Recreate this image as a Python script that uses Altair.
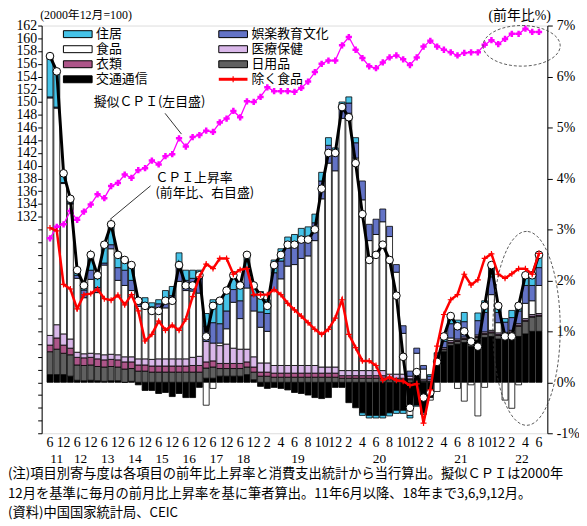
import altair as alt
import pandas as pd

JP = "Noto Sans CJK JP"
SERIF = "Liberation Serif, Noto Sans CJK JP"

# ---------------- periods (2011/6-2018/12 quarterly, 2019/1-2022/6 monthly)
periods = []
for y in range(2011, 2019):
    for m in (3, 6, 9, 12):
        if y == 2011 and m < 6:
            continue
        periods.append((y, m))
for y in range(2019, 2023):
    for m in range(1, 13):
        if y == 2022 and m > 6:
            break
        periods.append((y, m))
N = len(periods)

tick_labels = []
for i, (y, m) in enumerate(periods):
    if y <= 2018:
        tick_labels.append(str(m) if m in (6, 12) else "")
    else:
        tick_labels.append(str(m) if m % 2 == 0 else "")

year_names = [str(y % 100) for y in range(2011, 2023)]

# ---------------- series (%, y/y)
cpi = [6.4, 6.1, 4.1, 3.6, 2.2, 1.9, 2.5, 2.1, 2.7, 3.1, 2.5, 2.4, 2.3, 1.6, 1.5,
       1.4, 1.4, 1.6, 1.6, 2.3, 1.9, 1.9, 2.1, 0.9, 1.5, 1.6, 1.8, 2.1, 1.9, 2.5, 1.9,
       1.7, 1.5, 2.3, 2.5, 2.7, 2.7, 2.8, 2.8, 3.0, 3.8, 4.5, 4.5,
       5.4, 5.2, 4.3, 3.3, 2.4, 2.5, 2.7, 2.4, 1.7, 0.5, -0.5, 0.2,
       -0.3, -0.2, 0.4, 0.9, 1.3, 1.1, 1.0, 0.8, 0.7, 1.5, 2.3, 1.5,
       0.9, 0.9, 1.5, 2.1, 2.1, 2.5]

ex_food = [3.03, 2.97, 1.92, 1.83, 1.44, 1.72, 1.74, 1.83, 1.64, 1.61, 1.71, 1.52, 1.72,
           1.40, 0.81, 0.94, 1.20, 1.02, 1.12, 1.02, 1.24, 1.68, 2.07, 2.32, 2.23,
           2.43, 2.43, 2.12, 2.21, 2.23, 1.72, 1.72, 1.72, 1.82, 1.72, 1.55, 1.42,
           1.30, 1.17, 1.04, 0.94, 1.04, 1.26, 1.62, 0.94, 0.68, 0.42, 0.42, 0.33,
           0.04, 0.10, 0.04, 0.02, -0.06, -0.03, -0.80, -0.15, 0.71, 1.33, 1.62, 1.72,
           2.12, 1.91, 2.01, 2.43, 2.52, 2.12, 2.04, 2.13, 2.23, 2.23, 2.12, 2.53]

# pseudo CPI (2000/12 = 100)
pseudo_cpi = [128.6, 130.4, 130.8, 132.9, 131.5, 132.8, 133.9, 135.5, 134.9, 136.8, 137.3,
              138.6, 138.1, 139.3, 139.6, 140.8, 140.2, 141.5, 141.8, 144.3, 143.0, 144.5,
              144.8, 145.5, 145.3, 146.8, 147.4, 148.6, 147.6, 150.1, 150.0, 150.8, 152.3,
              151.7, 151.7, 151.7, 151.6, 152.2, 153.2, 154.7, 156.0, 156.5, 156.5, 158.9,
              160.2, 158.2, 156.9, 155.6, 155.3, 156.2, 157.0, 157.3, 156.7, 155.8, 157.0,
              158.7, 159.6, 158.7, 158.2, 157.8, 157.3, 157.7, 157.8, 157.8, 159.0, 159.7,
              159.1, 159.9, 160.7, 160.7, 161.5, 161.0, 161.0]

# contributions (% pt)
transport = [.15, .15, .15, .12, .04, .03, .04, .03, .02, .03, .03, .00, .02,
             -.05, -.16, -.16, -.22, -.20, -.28, -.22, -.30, -.30, -.10, .08, .08,
             .12, .12, .12, .12, .15, .05, -.08, -.12, -.10, -.12, -.15, -.20,
             -.22, -.25, -.30, -.32, -.30, -.10, -.10, -.40, -.50, -.60, -.65, -.65,
             -.65, -.60, -.55, -.55, -.50, -.45, -.60, -.30, .45, .60, .72, .75,
             .78, .70, .82, .88, .90, .85, .85, .85, .90, .95, 1.00, 1.00]
household = [.45, .50, .42, .42, .30, .30, .30, .28, .28, .28, .27, .26, .25,
             .22, .22, .20, .20, .20, .20, .20, .20, .20, .20, .20, .22,
             .15, .15, .15, .15, .15, .15, .12, .12, .10, .10, .10, .10,
             .10, .10, .10, .10, .10, .10, .08, .08, .08, .08, .08, .08,
             .08, .05, .05, .05, .05, .05, .03, .02, .03, .04, .05, .05,
             .06, .05, .06, .06, .07, .07, .08, .12, .20, .25, .28, .30]
clothing = [.13, .22, .16, .13, .15, .15, .15, .15, .14, .14, .14, .14, .13,
            .12, .12, .12, .12, .12, .12, .12, .12, .13, .13, .12, .12,
            .10, .10, .10, .10, .10, .10, .08, .08, .08, .08, .08, .08,
            .08, .08, .08, .08, .08, .08, .05, .05, .05, .05, .05, .05,
            .05, .03, .03, .03, .02, .02, .00, .00, .01, .01, .02, .02,
            .02, .02, .02, .02, .02, .02, .02, .02, .02, .02, .02, .02]
medical = [.19, .26, .22, .18, .10, .08, .08, .10, .10, .10, .10, .10, .10,
           .12, .12, .13, .14, .14, .14, .14, .14, .16, .18, .40, .35,
           .35, .38, .30, .28, .25, .20, .18, .18, .15, .15, .15, .15,
           .15, .15, .15, .12, .12, .12, .10, .10, .10, .10, .10, .10,
           .10, .08, .08, .08, .05, .05, .03, .03, .03, .03, .03, .03,
           .03, .03, .03, .03, .03, .03, .03, .03, .03, .03, .03, .03]
food = [4.66, 4.25, 2.95, 2.65, 1.45, 1.10, 1.45, 1.20, 1.76, 2.07, 1.46, 1.40, 1.30,
        1.03, 1.05, .98, 1.00, 1.00, 1.10, 1.52, 1.34, 1.30, 1.24, -.45, -.12,
        .05, .30, .90, .60, 1.20, .90, .70, .62, 1.47, 1.70, 1.95, 1.98,
        2.10, 2.15, 2.45, 3.30, 4.00, 3.85, 4.95, 5.05, 4.17, 3.35, 2.55, 2.67,
        2.92, 2.70, 2.00, .80, -.15, .45, .20, -.05, -.18, .00, .05, -.12,
        -.37, -.05, -.66, -.10, .70, .20, -.35, -.51, -.05, .30, .27, .55]
recreation = [.02, .02, .02, .02, .06, .15, .18, .10, .04, .08, .25, .30, .20,
              .05, .05, .05, .08, .14, .14, .30, .20, .25, .28, .30, .40,
              .38, .35, .25, .35, .40, .30, .30, .35, .35, .35, .35, .35,
              .35, .35, .35, .35, .35, .30, .20, .20, .30, .37, .32, .30,
              .25, .20, .15, .15, .10, .10, .07, .07, .04, .12, .28, .22,
              .30, .03, .28, .38, .35, .20, .20, .25, .25, .35, .30, .35]
housing = [.80, .70, .20, .08, .10, .09, .30, .24, .36, .40, .25, .20, .30,
           .11, .10, .08, .08, .20, .18, .26, .20, .16, .17, .25, .45,
           .45, .40, .28, .30, .25, .20, .40, .27, .25, .24, .22, .24,
           .24, .22, .17, .17, .15, .15, .12, .12, .10, -.05, -.05, -.05,
           -.05, -.06, -.06, -.06, -.05, -.02, -.03, .03, .02, .10, .15, .15,
           .18, .02, .15, .23, .23, .13, .07, .14, .15, .20, .20, .25]

# stack order bottom -> top
stack_cats = ["交通通信", "日用品", "衣類", "医療保健", "食品", "娯楽教育文化", "住居"]
stack_vals = [transport, household, clothing, medical, food, recreation, housing]

# legend (column-major, 2 columns) and colours
legend_cats = ["住居", "食品", "衣類", "交通通信", "娯楽教育文化", "医療保健", "日用品"]
legend_cols = ["#45c3e8", "#ffffff", "#ad5589", "#000000", "#6373c6", "#dab8ea", "#606060"]
line_legend = "除く食品"

bar_rows = []
for k, (cat, vals) in enumerate(zip(stack_cats, stack_vals)):
    for i, v in enumerate(vals):
        bar_rows.append({"idx": i, "cat": cat, "val": v, "ord": k})
bar_df = pd.DataFrame(bar_rows)

line_df = pd.DataFrame({"idx": list(range(N)), "cpi": cpi, "exfood": ex_food,
                        "pseudo": pseudo_cpi})

month_df = pd.DataFrame([{"idx": i, "lab": s} for i, s in enumerate(tick_labels) if s])

yr_rows = []
for y, name in zip(range(2011, 2023), year_names):
    ids = [i for i, p in enumerate(periods) if p[0] == y]
    yr_rows.append({"yr": name, "center": (min(ids) + max(ids)) / 2})
year_df = pd.DataFrame(yr_rows)

notes = ["(注)項目別寄与度は各項目の前年比上昇率と消費支出統計から当行算出。擬似ＣＰＩは2000年",
         "12月を基準に毎月の前月比上昇率を基に筆者算出。11年6月以降、18年まで3,6,9,12月。",
         "(資料)中国国家統計局、CEIC"]

W, H = 511, 412

xs = alt.Scale(domain=[-0.5, N - 0.5], nice=False, zero=False)
X = alt.X("idx:Q", scale=xs, axis=None)

yR = alt.Scale(domain=[-1, 7], nice=False, zero=False)
yL = alt.Scale(domain=[98, 162], nice=False, zero=False)

yR_axis = alt.Axis(orient="right", values=list(range(-1, 8)), labelExpr="datum.value + '%'",
                   tickSize=5, tickColor="black", domainColor="black", labelColor="black",
                   labelFont=SERIF, labelFontSize=14, labelPadding=4, labelOverlap=False,
                   labelFlush=False, grid=False, titleAngle=0, titleX=3, titleY=-10,
                   titleAlign="right", titleBaseline="middle", titleFont=SERIF,
                   titleFontSize=14, titleFontWeight="normal", titleColor="black")
yL_axis = alt.Axis(orient="left", values=list(range(98, 163, 2)),
                   labelExpr="datum.value >= 132 ? datum.label : ''",
                   tickSize=4, tickColor="black", domainColor="black", labelColor="black",
                   labelFont=SERIF, labelFontSize=14, labelPadding=1, labelOverlap=False,
                   labelFlush=False, grid=False, titleAngle=0, titleX=-2, titleY=-11,
                   titleAlign="left", titleBaseline="middle", titleFont=SERIF,
                   titleFontSize=12, titleFontWeight="normal", titleColor="black")

color_scale = alt.Scale(domain=legend_cats, range=legend_cols)

bars = alt.Chart(bar_df).mark_bar(size=6, stroke="black", strokeWidth=0.8).encode(
    x=X,
    y=alt.Y("val:Q", stack="zero", scale=yR, axis=yR_axis, title="(前年比%)"),
    color=alt.Color("cat:N", scale=color_scale, legend=None),
    order=alt.Order("ord:Q", sort="ascending"),
)

mag_line = alt.Chart(line_df).mark_line(color="#ff00ff", strokeWidth=1.3).encode(
    x=X, y=alt.Y("pseudo:Q", scale=yL, axis=yL_axis, title="(2000年12月=100)"))
mag_pts = alt.Chart(line_df).mark_point(shape="cross", filled=True, color="#ff00ff",
                                        size=40, opacity=1).encode(
    x=X, y=alt.Y("pseudo:Q", scale=yL, axis=None))

cpi_line = alt.Chart(line_df).mark_line(color="black", strokeWidth=3).encode(
    x=X, y=alt.Y("cpi:Q", scale=yR, axis=None))
cpi_pts = alt.Chart(line_df).mark_point(shape="circle", filled=True, fill="white",
                                        stroke="black", strokeWidth=1, size=60,
                                        opacity=1).encode(
    x=X, y=alt.Y("cpi:Q", scale=yR, axis=None))

red_line = alt.Chart(line_df).mark_line(color="#ff0000", strokeWidth=2.5).encode(
    x=X, y=alt.Y("exfood:Q", scale=yR, axis=None))
red_pts = alt.Chart(line_df).mark_point(shape="M-1,0H1M0,-1V1", filled=False,
                                        stroke="#ff0000", strokeWidth=1.2, size=36,
                                        opacity=1).encode(
    x=X, y=alt.Y("exfood:Q", scale=yR, axis=None))

months = alt.Chart(month_df).mark_text(font=SERIF, fontSize=14, color="black",
                                       baseline="middle").encode(
    x=alt.X("idx:Q", scale=xs, axis=None), y=alt.value(H + 10), text="lab:N")
years = alt.Chart(year_df).mark_text(font=SERIF, fontSize=13.5, color="black",
                                     baseline="middle").encode(
    x=alt.X("center:Q", scale=xs, axis=None), y=alt.value(H + 26), text="yr:N")

one = pd.DataFrame({"k": [0]})


def label(txt, x, y, align, font=JP, size=13):
    return alt.Chart(pd.DataFrame({"t": [txt]})).mark_text(
        font=font, fontSize=size, color="black", align=align, baseline="middle").encode(
        text="t:N", x=alt.value(x), y=alt.value(y))


extras = [
    label("擬似ＣＰＩ(左目盛)", 109, 77, "center"),
    label("ＣＰＩ上昇率", 115, 154, "left"),
    label("(前年比、右目盛)", 115, 169, "left"),
    alt.Chart(one).mark_rule(color="black", strokeWidth=0.8).encode(
        x=alt.value(124.7), x2=alt.value(141.3), y=alt.value(88.7), y2=alt.value(109.7)),
    alt.Chart(one).mark_rule(color="black", strokeWidth=0.8).encode(
        x=alt.value(110), x2=alt.value(69), y=alt.value(162), y2=alt.value(196)),
    alt.Chart(one).mark_point(shape="M-1,0A1,0.526,0,1,0,1,0A1,0.526,0,1,0,-1,0Z",
                              size=6084, filled=False, stroke="#333333",
                              strokeWidth=0.8, strokeDash=[3, 2], opacity=1).encode(
        x=alt.value(485), y=alt.value(20.5)),
    alt.Chart(one).mark_point(shape="M0,-1A0.347,1,0,1,0,0,1A0.347,1,0,1,0,0,-1Z",
                              size=38416, filled=False, stroke="#333333",
                              strokeWidth=0.8, strokeDash=[3, 2], opacity=1).encode(
        x=alt.value(490), y=alt.value(306)),
]

# footnotes
for k, line in enumerate(notes):
    extras.append(label(line, -34, H + 41 + 20 * k, "left", size=13.4))

# legend (manual, 2 columns x 4 rows)
for k, cat in enumerate(legend_cats + [line_legend]):
    col, row = divmod(k, 4)
    x0 = 22 + 157 * col
    yc = 8.7 + 15.2 * row
    if cat == line_legend:
        extras.append(alt.Chart(one).mark_rule(color="#ff0000", strokeWidth=3).encode(
            x=alt.value(x0), x2=alt.value(x0 + 29), y=alt.value(yc)))
        extras.append(alt.Chart(one).mark_point(shape="M-1,0H1M0,-1V1", filled=False,
                                                stroke="#ff0000", strokeWidth=1.2, size=36,
                                                opacity=1).encode(
            x=alt.value(x0 + 14.5), y=alt.value(yc)))
    else:
        extras.append(alt.Chart(pd.DataFrame({"cat": [cat]})).mark_rect(
            stroke="black", strokeWidth=1).encode(
            x=alt.value(x0), x2=alt.value(x0 + 29), y=alt.value(yc - 3.5),
            y2=alt.value(yc + 3.5),
            color=alt.Color("cat:N", scale=color_scale, legend=None)))
    extras.append(label(cat, x0 + 33, yc, "left"))

chart = alt.layer(
    bars, mag_line, mag_pts, cpi_line, cpi_pts, red_line, red_pts, months, years, *extras
).resolve_scale(y="independent").properties(
    width=W, height=H,
    autosize=alt.AutoSizeParams(type="none"),
    padding={"left": 34, "top": 15, "right": 32, "bottom": 92},
).configure_view(stroke="black", strokeWidth=1).configure(background="white")

chart.save("out.html", embed_options={"renderer": "svg", "actions": False})
